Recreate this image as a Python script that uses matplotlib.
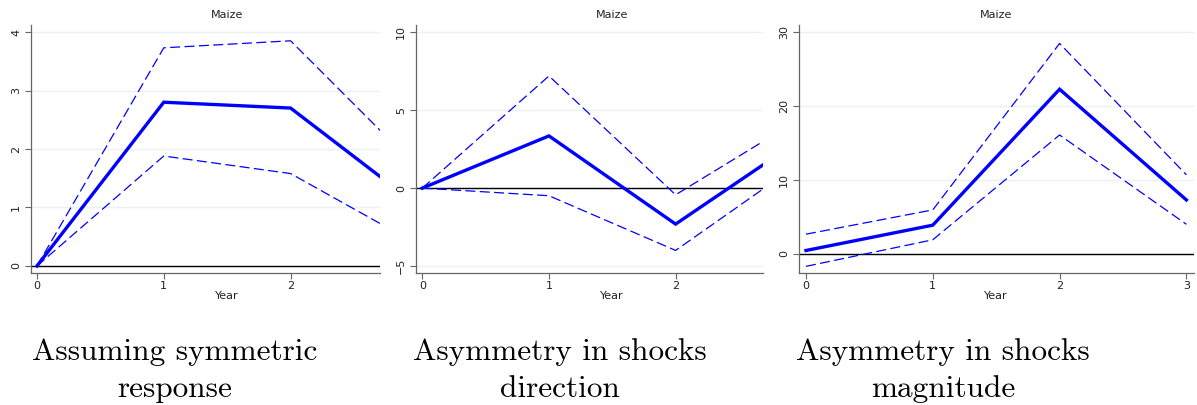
import matplotlib
matplotlib.use("Agg")
import matplotlib.pyplot as plt
import matplotlib.transforms as mtransforms

years = [0, 1, 2, 3]

# Panel 1: assuming symmetric response
sym_mean = [0.0, 2.80, 2.70, 1.04]
sym_upper = [0.0, 3.73, 3.85, 1.68]
sym_lower = [0.0, 1.88, 1.58, 0.37]

# Panel 2: asymmetry in shocks direction
dir_mean = [0.0, 3.35, -2.31, 3.2]
dir_upper = [0.0, 7.2, -0.43, 4.53]
dir_lower = [0.0, -0.49, -4.0, 1.71]

# Panel 3: asymmetry in shocks magnitude
mag_mean = [0.45, 3.88, 22.3, 7.3]
mag_upper = [2.66, 5.95, 28.5, 10.7]
mag_lower = [-1.7, 1.9, 16.1, 4.0]

titles = ["Maize", "Maize", "Maize"]
captions = [("Assuming symmetric", "response"),
            ("Asymmetry in shocks", "direction"),
            ("Asymmetry in shocks", "magnitude")]
yticks_list = [[0, 1, 2, 3, 4], [-5, 0, 5, 10], [0, 10, 20, 30]]
xticks_list = [[0, 1, 2], [0, 1, 2], [0, 1, 2, 3]]

W, H = 1197, 405
fig = plt.figure(figsize=(W / 100, H / 100), dpi=100)

# pixel boxes: left, right, top, bottom
boxes = [(31, 380, 25, 273), (416, 763, 25, 273), (799, 1194, 25, 273)]
xlims = [(-0.047, 2.705), (-0.05, 2.69), (-0.055, 3.06)]
ylims = [(-0.12, 4.12), (-5.45, 10.47), (-2.6, 31.0)]
series = [(sym_mean, sym_upper, sym_lower),
          (dir_mean, dir_upper, dir_lower),
          (mag_mean, mag_upper, mag_lower)]
cap_x = [174.5, 560, 943]

grid_c = "#EAF2F3"
spine_c = "#666666"
text_c = "#222222"

for i in range(3):
    l, r, t, b = boxes[i]
    ax = fig.add_axes([l / W, 1 - b / H, (r - l) / W, (b - t) / H])
    mean, up, lo = series[i]
    ax.set_xlim(*xlims[i])
    ax.set_ylim(*ylims[i])
    ax.set_yticks(yticks_list[i])
    ax.set_xticks(xticks_list[i])
    ax.grid(axis="y", color=grid_c, lw=1.0, zorder=0)
    ax.axhline(0, color="black", lw=1.0, zorder=2)
    ax.plot(years, up, color="#0000FF", lw=0.9, dashes=(8, 3.5), zorder=3)
    ax.plot(years, lo, color="#0000FF", lw=0.9, dashes=(8, 3.5), zorder=3)
    ax.plot(years, mean, color="#0000FF", lw=2.4, zorder=4,
            solid_joinstyle="miter")
    for s in ["top", "right"]:
        ax.spines[s].set_visible(False)
    for s in ["left", "bottom"]:
        ax.spines[s].set_color(spine_c)
        ax.spines[s].set_linewidth(0.9)
    ax.tick_params(axis="both", colors=spine_c, labelcolor=text_c,
                   labelsize=8, length=4, width=0.8)
    for lab in ax.get_yticklabels():
        lab.set_rotation(90)
        lab.set_va("center")
    ax.tick_params(axis="y", pad=3)
    ax.tick_params(axis="x", pad=2)
    trans = mtransforms.blended_transform_factory(ax.transData, fig.transFigure)
    ax.text(1.5, 1 - 15 / H, titles[i], transform=trans, ha="center",
            va="center", fontsize=8, color=text_c)
    ax.text(1.5, 1 - 296 / H, "Year", transform=trans, ha="center",
            va="center", fontsize=8, color=text_c)
    line1, line2 = captions[i]
    fig.text(cap_x[i] / W, 1 - 360 / H, line1, ha="center",
             va="baseline", fontsize=22.5, family="cmr10", color="black")
    fig.text(cap_x[i] / W, 1 - 397 / H, line2, ha="center",
             va="baseline", fontsize=22.5, family="cmr10", color="black")

fig.savefig("out.png", dpi=100, facecolor="white")
